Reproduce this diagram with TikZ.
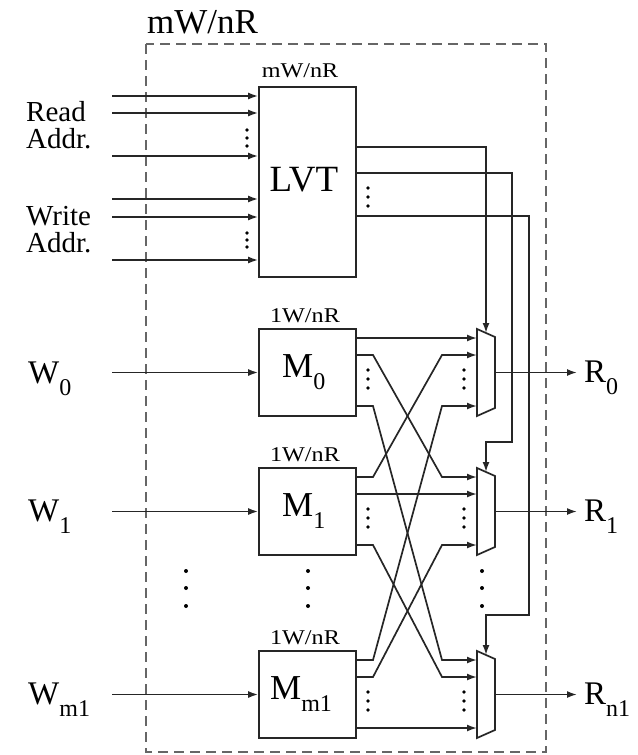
\documentclass[tikz,border=0pt]{standalone}
\usepackage{fontspec}
\setmainfont{Liberation Serif}
\usetikzlibrary{arrows.meta,calc}
\newcommand\subx[1]{\raisebox{-12bp}{\fontsize{24bp}{24bp}\selectfont #1}}
\begin{document}
\begin{tikzpicture}[x=1bp,y=-1bp,
  wire/.style={line width=1.7bp,draw=black!85},
  arr/.style={wire,-{Latex[length=10bp,width=7bp]}},
  blk/.style={draw=black!85,line width=1.7bp,minimum width=97bp,inner sep=0pt},
  frame/.style={draw=black!60,line width=1.5bp,dash pattern=on 10bp off 6bp},
  biglbl/.style={font=\fontsize{35bp}{36bp}\selectfont,inner sep=0pt},
  sidelbl/.style={font=\fontsize{29bp}{26.5bp}\selectfont,inner sep=0pt,align=left},
  smalllbl/.style={font=\fontsize{21bp}{22bp}\selectfont,inner sep=0pt},
  symlbl/.style={font=\fontsize{33bp}{34bp}\selectfont,inner sep=0pt},
  dot/.style={fill=black}
]
\useasboundingbox (0,0) rectangle (638,755);

% outer dashed frame
\draw[frame] (146,44) rectangle (546,752);
\node[biglbl,anchor=base west] (title) at (147,34) {mW/nR};

% LVT block
\node[blk,minimum height=190bp] (LVT) at (307.5,182) {};
\node[smalllbl,anchor=base] (lvttop) at (300,77) {\scalebox{1.15}[1]{mW/nR}};
\node[font=\fontsize{37bp}{38bp}\selectfont,inner sep=0pt,anchor=base] (lvttxt) at (304,191) {LVT};

% memory blocks
\foreach \i/\T in {0/329,1/468,2/651}{
  \node[blk,minimum height=87bp] (M\i) at (307.5,\T+43.5) {};
  \node[smalllbl,anchor=base] (M\i top) at (305,\T-7) {\scalebox{1.15}[1]{1W/nR}};
  \foreach \k/\o in {0/9,1/26,2/77}
    \coordinate (m\i out\k) at (356,\T+\o);
  \foreach \d in {41,50,59}{
    \fill[dot] (368,\T+\d) circle (1.8);
    \fill[dot] (464,\T+\d) circle (1.8);
  }
  % mux
  \draw[wire] (477,\T) -- (495,\T+8) -- (495,\T+79) -- (477,\T+87) -- cycle;
  \coordinate (mux\i out) at (495,\T+43.5);
  \coordinate (mux\i top) at (486,\T+4);
  \foreach \k/\o in {0/9,1/26,2/77}
    \coordinate (mux\i in\k) at (477,\T+\o);
}
\node[symlbl,font=\fontsize{35bp}{36bp}\selectfont,anchor=base west] (M0txt) at (282,377) {M\subx{0}};
\node[symlbl,font=\fontsize{35bp}{36bp}\selectfont,anchor=base west] (M1txt) at (282,516) {M\subx{1}};
\node[symlbl,font=\fontsize{35bp}{36bp}\selectfont,anchor=base west] (M2txt) at (270,699) {M\subx{m1}};

% memory -> mux crossbar
\foreach \i in {0,1,2}{
  \foreach \j in {0,1,2}{
    \ifnum\i=\j
      \draw[arr] (m\i out\j) -- (mux\j in\i);
    \else
      \draw[arr] (m\i out\j) -- ++(17,0) -- ($(mux\j in\i)+(-35,0)$) -- (mux\j in\i);
    \fi
  }
}

% address inputs
\foreach \n/\y in {a/96,b/113,c/156,d/199,e/217,f/260}{
  \coordinate (in\n) at (112,\y);
  \draw[arr] (in\n) -- (in\n -| LVT.west);
}
\foreach \y in {130,138,146,233,240,247}
  \fill[dot] (247,\y) circle (1.8);
\node[sidelbl,anchor=base west] (rd) at (26,148) {Read\\Addr.};
\node[sidelbl,anchor=base west] (wr) at (26,252) {Write\\Addr.};

% LVT outputs
\coordinate (lo0) at (356,147);
\coordinate (lo1) at (356,173);
\coordinate (lo2) at (356,216);
\foreach \y in {188,197,206}
  \fill[dot] (368,\y) circle (1.8);
\draw[arr] (lo0) -| (mux0top);
\draw[arr] (lo1) -- (512,173) |- (486,442) -- (mux1top);
\draw[arr] (lo2) -- (529,216) |- (486,615) -- (mux2top);

% write data inputs and read outputs
\foreach \i/\y in {0/372.5,1/511.5,2/694.5}{
  \coordinate (w\i) at (112,\y);
  \draw[arr] (w\i) -- (M\i.west);
  \coordinate (r\i) at (577,\y);
  \draw[arr] (mux\i out) -- (r\i);
}
\node[symlbl,anchor=base west] (W0) at (28,383) {W\subx{0}};
\node[symlbl,anchor=base west] (W1) at (28,521) {W\subx{1}};
\node[symlbl,anchor=base west] (W2) at (28,704) {W\subx{m1}};
\node[symlbl,anchor=base west] (R0) at (584,382) {R\subx{0}};
\node[symlbl,anchor=base west] (R1) at (584,521) {R\subx{1}};
\node[symlbl,anchor=base west] (R2) at (584,704) {R\subx{n1}};

% vertical ellipses between rows
\foreach \x in {186,308,482}
  \foreach \y in {571,588,606}
    \fill[dot] (\x,\y) circle (2);
\end{tikzpicture}
\end{document}
